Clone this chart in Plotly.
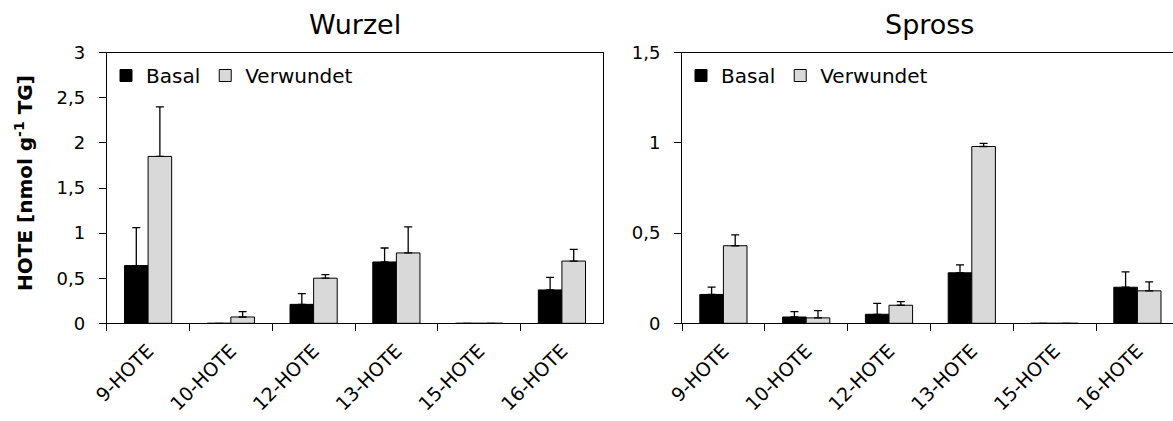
import plotly.graph_objects as go

W, H = 1173, 421

categories = ["9-HOTE", "10-HOTE", "12-HOTE", "13-HOTE", "15-HOTE", "16-HOTE"]

# Wurzel (root)
wurzel_basal = [0.64, 0.0, 0.21, 0.68, 0.0, 0.37]
wurzel_basal_err = [0.42, 0.0, 0.12, 0.155, 0.0, 0.14]
wurzel_verwundet = [1.85, 0.07, 0.50, 0.78, 0.0, 0.69]
wurzel_verwundet_err = [0.55, 0.06, 0.04, 0.29, 0.0, 0.13]

# Spross (shoot)
spross_basal = [0.16, 0.035, 0.05, 0.28, 0.0, 0.20]
spross_basal_err = [0.04, 0.03, 0.06, 0.044, 0.0, 0.085]
spross_verwundet = [0.43, 0.03, 0.10, 0.98, 0.0, 0.18]
spross_verwundet_err = [0.06, 0.04, 0.02, 0.017, 0.0, 0.05]

wurzel_ticks = [0, 0.5, 1, 1.5, 2, 2.5, 3]
wurzel_ticktext = ["0", "0,5", "1", "1,5", "2", "2,5", "3"]
spross_ticks = [0, 0.5, 1, 1.5]
spross_ticktext = ["0", "0,5", "1", "1,5"]

FONT = "DejaVu Sans"
BASAL_COLOR = "#000000"
VERW_COLOR = "#d9d9d9"


def px_x(p):
    return p / W


def px_y(p):
    return 1 - p / H


def bar(name, y, err, color, xaxis, yaxis, legend):
    return go.Bar(
        name=name,
        x=categories,
        y=y,
        marker=dict(color=color, line=dict(color="black", width=1)),
        error_y=dict(type="data", symmetric=False, array=err,
                     arrayminus=[0] * len(err), color="black",
                     thickness=1.3, width=4),
        xaxis=xaxis,
        yaxis=yaxis,
        legend=legend,
    )


fig = go.Figure()
fig.add_trace(bar("Basal", wurzel_basal, wurzel_basal_err, BASAL_COLOR, "x", "y", "legend"))
fig.add_trace(bar("Verwundet", wurzel_verwundet, wurzel_verwundet_err, VERW_COLOR, "x", "y", "legend"))
fig.add_trace(bar("Basal", spross_basal, spross_basal_err, BASAL_COLOR, "x2", "y2", "legend2"))
fig.add_trace(bar("Verwundet", spross_verwundet, spross_verwundet_err, VERW_COLOR, "x2", "y2", "legend2"))

ydom = [px_y(323.3), px_y(52.7)]
xaxis_common = dict(
    type="category", tickson="boundaries", ticks="outside", ticklen=7,
    tickcolor="black", showline=True, linecolor="black", linewidth=1,
    showgrid=False, tickangle=-45, tickfont=dict(family=FONT, size=19, color="black"),
    ticklabelstandoff=8, automargin=False,
)
yaxis_common = dict(
    ticks="outside", ticklen=7, tickcolor="black", showline=True,
    linecolor="black", linewidth=1, showgrid=False, zeroline=False,
    tickfont=dict(family=FONT, size=18, color="black"), ticklabelstandoff=10,
    automargin=False,
)

legend_common = dict(
    orientation="h", xanchor="left", yanchor="top", bgcolor="rgba(0,0,0,0)",
    font=dict(family=FONT, size=20, color="black"), traceorder="normal",
)

fig.update_layout(
    width=W, height=H,
    margin=dict(l=0, r=0, t=0, b=0, autoexpand=False),
    paper_bgcolor="white", plot_bgcolor="white",
    barmode="group", bargap=0.43, bargroupgap=0,
    font=dict(family=FONT, color="black"),
    xaxis=dict(xaxis_common, domain=[px_x(106.7), px_x(603.3)], anchor="y",
               mirror=True, range=[-0.5, 5.5]),
    yaxis=dict(yaxis_common, domain=ydom, anchor="x", range=[0, 3],
               tickvals=wurzel_ticks, ticktext=wurzel_ticktext, mirror=True),
    xaxis2=dict(xaxis_common, domain=[px_x(682), 1], anchor="y2",
                mirror=True, range=[-0.5, -0.5 + (W - 682) / 82.8]),
    yaxis2=dict(yaxis_common, domain=ydom, anchor="x2", range=[0, 1.5],
                tickvals=spross_ticks, ticktext=spross_ticktext, mirror=False),
    legend=dict(legend_common, x=px_x(106), y=px_y(56)),
    legend2=dict(legend_common, x=px_x(681), y=px_y(56)),
    annotations=[
        dict(text="Wurzel", x=px_x(355), y=px_y(25), xref="paper", yref="paper",
             showarrow=False, xanchor="center", yanchor="middle",
             font=dict(family=FONT, size=27, color="black")),
        dict(text="Spross", x=px_x(929), y=px_y(25), xref="paper", yref="paper",
             showarrow=False, xanchor="center", yanchor="middle",
             font=dict(family=FONT, size=27, color="black")),
        dict(text="<b>HOTE [nmol g<sup>-1</sup> TG]</b>", x=px_x(23.5), y=px_y(183.5),
             xref="paper", yref="paper", showarrow=False, textangle=-90,
             xanchor="center", yanchor="middle",
             font=dict(family=FONT, size=20, color="black")),
    ],
)

fig.write_html("out.html")
